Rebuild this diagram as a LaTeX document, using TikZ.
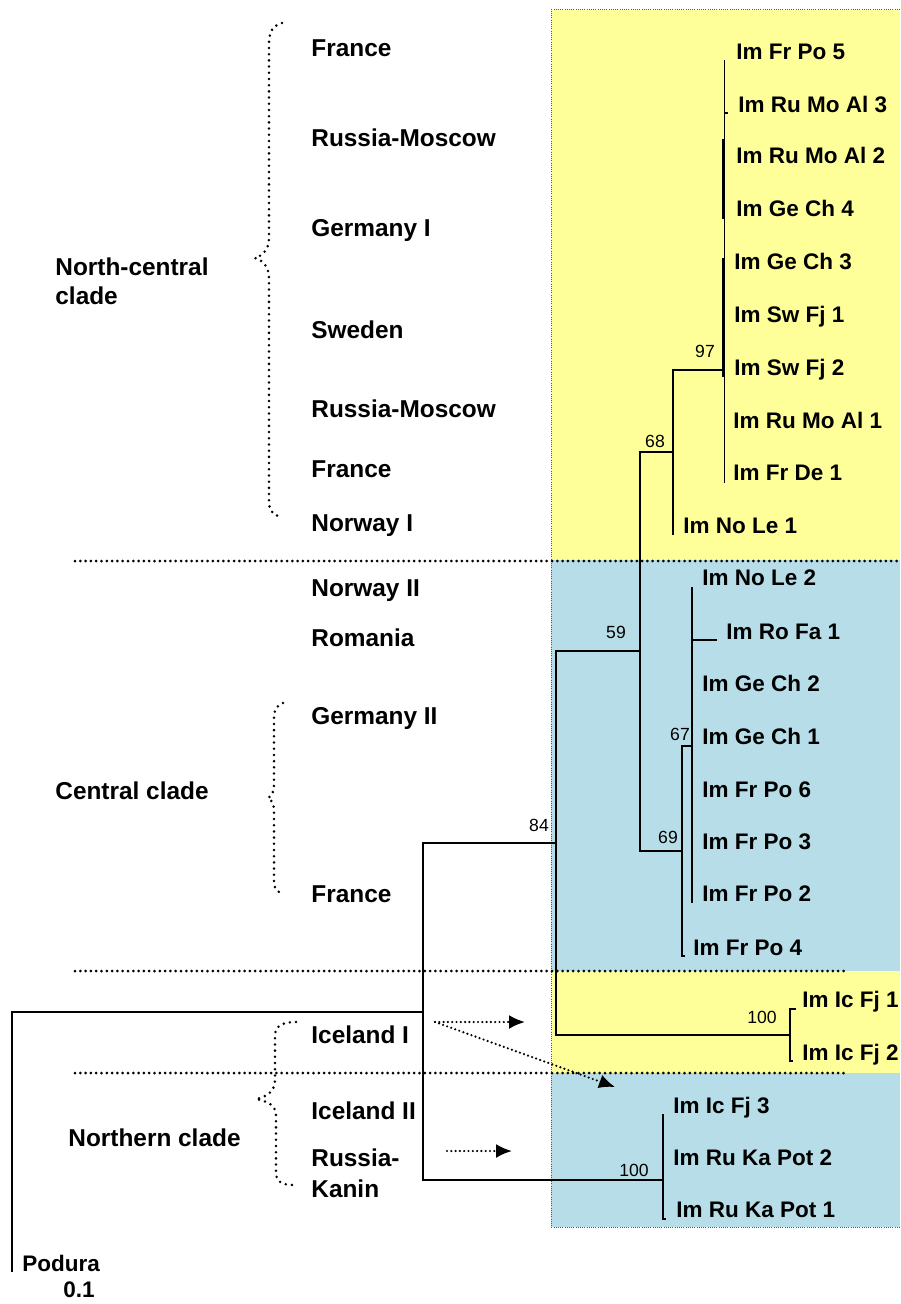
\documentclass[tikz,border=0pt]{standalone}
\usepackage{fontspec}
\setmainfont{Liberation Sans}
\usetikzlibrary{arrows.meta}
\definecolor{paleyellow}{HTML}{FFFF99}
\definecolor{paleblue}{HTML}{B7DEE8}
\tikzset{
  branch/.style={line width=0.7pt},
  twig/.style={line width=1.3pt},
  leaf/.style={anchor=base west, inner sep=0pt, font=\fontsize{11.25}{13}\selectfont\bfseries},
  place/.style={anchor=base west, inner sep=0pt, font=\fontsize{12.2}{14}\selectfont\bfseries},
  boot/.style={inner sep=0pt, font=\fontsize{8.8}{10}\selectfont},
  band/.style={draw=black!65, line width=0.5pt, dash pattern=on 0.5pt off 0.6pt},
  sep/.style={line width=1.5pt, line cap=round, dash pattern=on 0pt off 2.65pt},
  bracedots/.style={line width=1.4pt, line cap=round, dash pattern=on 0pt off 3.1pt},
  hint/.style={line width=1.2pt, line cap=round, dash pattern=on 0pt off 2.15pt,
               -{Latex[length=8pt,width=7pt]}}
}
\begin{document}
\begin{tikzpicture}[x=0.5pt, y=-0.5pt]
\useasboundingbox (0,0) rectangle (900,1304);

% coloured bands behind the clades
\fill[paleyellow] (551,10) rectangle (900,560);
\fill[paleblue]   (551,560) rectangle (900,971);
\fill[paleyellow] (551,971) rectangle (900,1073);
\fill[paleblue]   (551,1073) rectangle (900,1227);
\draw[band] (900,10) -- (551,10) -- (551,1227) -- (900,1227);

% dotted separators between groups
\draw[sep] (75,561) -- (900,561);
\draw[sep] (75,971) -- (847,971);
\draw[sep] (75,1073) -- (847,1073);

% internal nodes of the tree
\coordinate (pod)  at (12,1272);
\coordinate (root) at (12,1012);
\coordinate (ing)  at (423,1012);
\coordinate (n84)  at (556,843);
\coordinate (nKa)  at (663,1180);
\coordinate (n59)  at (640,651);
\coordinate (nIc)  at (790,1035);
\coordinate (n68)  at (673,452);
\coordinate (n97)  at (724.5,370);
\coordinate (n69)  at (682,851);
\coordinate (n67)  at (692,746);

% leaf tips
\coordinate (tFrPo5) at (724.5,60);
\coordinate (tRuMo3) at (724.5,113);
\coordinate (tFrDe1) at (724.5,483);
\coordinate (tNoLe1) at (673,535);
\coordinate (tNoLe2) at (692,587);
\coordinate (tRoFaA) at (692,640);
\coordinate (tRoFa1) at (717,640);
\coordinate (tFrPo2) at (692,903);
\coordinate (tFrPo4) at (682,956);
\coordinate (tIcFj1) at (790,1009);
\coordinate (tIcFj2) at (790,1061);
\coordinate (tIcFj3) at (663,1114);
\coordinate (tRuKa1) at (663,1219);

% branches
\draw[branch] (pod) -- (root) -- (ing);
\draw[branch] (ing) |- (n84);
\draw[branch] (ing) |- (nKa);
\draw[branch] (n84) |- (n59);
\draw[branch] (n84) |- (nIc);
\draw[branch] (n59) |- (n68);
\draw[branch] (n59) |- (n69);
\draw[branch] (n68) |- (n97);
\draw[branch] (n68) -- (tNoLe1);
\draw[branch] (tFrPo5) -- (n97) -- (tFrDe1);
\draw[branch] (tRuMo3) -- ++(3,0);
\draw[twig] (723.6,139) -- (723.6,219);
\draw[twig] (723.4,258) -- (723.4,377);
\draw[branch] (n69) |- (n67);
\draw[branch] (n69) -- (tFrPo4) -- ++(3,0);
\draw[branch] (tNoLe2) -- (n67) -- (tFrPo2);
\draw[branch] (tRoFaA) -- (tRoFa1);
\draw[branch] ([xshift=3]tIcFj1) -- (tIcFj1) -- (nIc) -- (tIcFj2) -- ++(3,0);
\draw[branch] (tIcFj3) -- (nKa) -- (tRuKa1) -- ++(3,0);

% bootstrap values
\node[boot] (b97)  at (705,351)  {97};
\node[boot] (b68)  at (655,441)  {68};
\node[boot] (b59)  at (616,632)  {59};
\node[boot] (b67)  at (680,734)  {67};
\node[boot] (b69)  at (668,837)  {69};
\node[boot] (b84)  at (539,825)  {84};
\node[boot] (b100a) at (762,1017) {100};
\node[boot] (b100b) at (634,1170) {100};

% specimen labels
\node[leaf] (FrPo5) at (736,60)   {Im Fr Po 5};
\node[leaf] (RuMo3) at (738,113)  {Im Ru Mo Al 3};
\node[leaf] (RuMo2) at (736,164)  {Im Ru Mo Al 2};
\node[leaf] (GeCh4) at (736,217)  {Im Ge Ch 4};
\node[leaf] (GeCh3) at (734,270)  {Im Ge Ch 3};
\node[leaf] (SwFj1) at (734,323)  {Im Sw Fj 1};
\node[leaf] (SwFj2) at (734,376)  {Im Sw Fj 2};
\node[leaf] (RuMo1) at (733,429)  {Im Ru Mo Al 1};
\node[leaf] (FrDe1) at (733,480)  {Im Fr De 1};
\node[leaf] (NoLe1) at (683,533)  {Im No Le 1};
\node[leaf] (NoLe2) at (702,585)  {Im No Le 2};
\node[leaf] (RoFa1) at (726,639)  {Im Ro Fa 1};
\node[leaf] (GeCh2) at (702,691)  {Im Ge Ch 2};
\node[leaf] (GeCh1) at (702,744)  {Im Ge Ch 1};
\node[leaf] (FrPo6) at (702,797)  {Im Fr Po 6};
\node[leaf] (FrPo3) at (702,849)  {Im Fr Po 3};
\node[leaf] (FrPo2) at (702,901)  {Im Fr Po 2};
\node[leaf] (FrPo4) at (693,955)  {Im Fr Po 4};
\node[leaf] (IcFj1) at (802,1007) {Im Ic Fj 1};
\node[leaf] (IcFj2) at (802,1060) {Im Ic Fj 2};
\node[leaf] (IcFj3) at (673,1113) {Im Ic Fj 3};
\node[leaf] (RuKa2) at (673,1165) {Im Ru Ka Pot 2};
\node[leaf] (RuKa1) at (676,1217) {Im Ru Ka Pot 1};
\node[leaf] (Podura) at (22,1271) {Podura};
\node[leaf] (scale)  at (63,1297) {0.1};

% localities
\node[place] (pFr1) at (311,57)   {France};
\node[place] (pRu1) at (311,147)  {Russia-Moscow};
\node[place] (pGe1) at (311,237)  {Germany I};
\node[place] (pSw)  at (311,339)  {Sweden};
\node[place] (pRu2) at (311,417)  {Russia-Moscow};
\node[place] (pFr2) at (311,477)  {France};
\node[place] (pNo1) at (311,531)  {Norway I};
\node[place] (pNo2) at (311,596)  {Norway II};
\node[place] (pRo)  at (311,646)  {Romania};
\node[place] (pGe2) at (311,724)  {Germany II};
\node[place] (pFr3) at (311,902)  {France};
\node[place] (pIc1) at (311,1043) {Iceland I};
\node[place] (pIc2) at (311,1119) {Iceland II};
\node[place] (pRuK) at (311,1166) {Russia-};
\node[place] (pKan) at (311,1197) {Kanin};

% clade names
\node[place] (cNC1) at (55,276)  {North-central};
\node[place] (cNC2) at (55,305)  {clade};
\node[place] (cCe)  at (55,799)  {Central clade};
\node[place] (cNo)  at (68,1146) {Northern clade};

% dotted braces
\draw[bracedots] (282,23) .. controls (272,26) and (269,32) .. (269,45)
  -- (269,238) .. controls (269,250) and (262,256) .. (255,258)
  .. controls (262,260) and (269,266) .. (269,278)
  -- (269,500) .. controls (269,510) and (272,514) .. (278,516);
\draw[bracedots] (283,703) .. controls (276,706) and (274,710) .. (274,718)
  -- (274,784) .. controls (274,792) and (272,796) .. (268,798)
  .. controls (272,800) and (274,804) .. (274,812)
  -- (274,878) .. controls (274,886) and (275,890) .. (279,892);
\draw[bracedots] (296,1022) .. controls (282,1022) and (275,1026) .. (275,1036)
  -- (275,1080) .. controls (275,1092) and (266,1097) .. (256,1099)
  .. controls (266,1101) and (276,1104) .. (276,1116)
  -- (276,1172) .. controls (276,1182) and (282,1185) .. (294,1185);

% dotted arrows from the Icelandic and Kanin samples
\coordinate (aIc) at (435,1022);
\coordinate (aIcT) at (525,1022);
\coordinate (aIcD) at (615,1087);
\coordinate (aKa) at (447,1151);
\coordinate (aKaT) at (512,1151);
\draw[hint] (aIc) -- (aIcT);
\draw[hint] (aIc) -- (aIcD);
\draw[hint] (aKa) -- (aKaT);
\end{tikzpicture}
\end{document}
